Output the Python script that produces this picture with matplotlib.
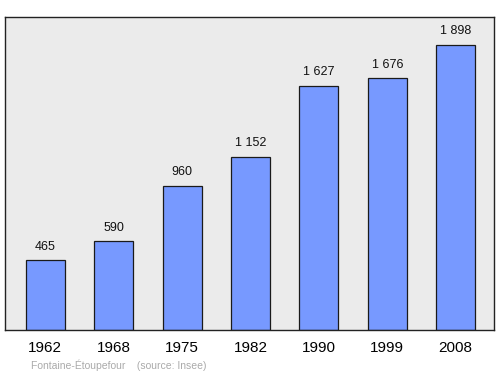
"""Population chart for Fontaine-Étoupefour."""

import matplotlib

matplotlib.use("Agg")
import matplotlib.pyplot as plt

plt.rcParams["font.family"] = ["Liberation Sans", "DejaVu Sans"]

years = ["1962", "1968", "1975", "1982", "1990", "1999", "2008"]
population = [465, 590, 960, 1152, 1627, 1676, 1898]
value_labels = ["465", "590", "960", "1 152", "1 627", "1 676", "1 898"]


def main() -> None:
    fig = plt.figure(figsize=(5.0, 3.74), dpi=100)
    ax = fig.add_axes([0.01, 0.1176, 0.978, 0.837])
    ax.set_facecolor("#ebebeb")

    positions = range(len(years))
    ax.bar(positions, population, width=0.57, color="#7799ff",
           edgecolor="#1a1a1a", linewidth=0.9, zorder=2)

    for x, y, label in zip(positions, population, value_labels):
        ax.annotate(label, xy=(x, y), xytext=(0, 5.5), textcoords="offset points",
                    ha="center", va="bottom", fontsize=9, color="#111111")

    ax.set_xlim(-0.59, 6.56)
    ax.set_ylim(0, 2085)
    ax.set_yticks([])
    ax.set_xticks(list(positions))
    ax.set_xticklabels(years, fontsize=11)
    ax.tick_params(axis="x", length=0, pad=8)
    for spine in ax.spines.values():
        spine.set_color("#222222")
        spine.set_linewidth(1.0)

    fig.text(0.062, 0.008, "Fontaine-Étoupefour    (source: Insee)",
             fontsize=7.5, color="#aaaaaa", ha="left", va="bottom")

    plt.savefig("out.png", dpi=100)
    plt.close()


if __name__ == "__main__":
    main()
